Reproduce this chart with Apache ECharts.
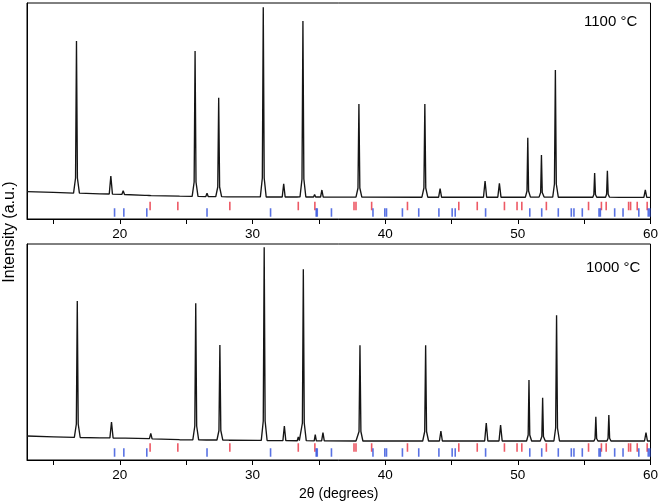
<!DOCTYPE html>
<html>
<head>
<meta charset="utf-8">
<script src="https://cdn.jsdelivr.net/npm/echarts@6/dist/echarts.min.js"></script>
<style>
html,body{margin:0;padding:0;background:#fff;}
#chart{width:661px;height:504px;}
</style>
</head>
<body>
<div id="chart"></div>
<script>
// 2θ tick values
const xTickValues = [15, 20, 25, 30, 35, 40, 45, 50, 55, 60];
const xLabelValues = [20, 30, 40, 50, 60];
const panelLabels = ['1100 °C', '1000 °C'];
const xAxisTitle = '2θ (degrees)';
const yAxisTitle = 'Intensity (a.u.)';

// Pattern at 1100 °C: [2θ, intensity (a.u.)]
const pattern1100 = [
  [13.0, 27.3], [15.0, 26.6],
  [16.51, 25.9], [16.66, 41], [16.73, 178], [16.80, 41], [16.95, 25.8],
  [18.5, 25.2],
  [19.2, 25.0], [19.32, 43], [19.44, 24.9],
  [20.15, 24.6], [20.25, 28.3], [20.35, 24.5],
  [21.88, 23.6], [21.96, 24.7], [22.04, 23.6],
  [22.2, 23.5], [22.28, 24.6], [22.36, 23.4],
  [24.5, 22.8],
  [25.45, 22.7], [25.6, 37], [25.67, 168], [25.74, 37], [25.89, 22.6],
  [26.48, 22.4], [26.57, 25.7], [26.66, 22.4],
  [27.23, 22.4], [27.38, 32], [27.45, 121.3], [27.52, 32], [27.67, 22.3],
  [28.1, 22.2], [28.2, 22.8], [28.3, 22.2],
  [30.3, 22.1],
  [30.59, 22.1], [30.74, 41], [30.81, 211.7], [30.88, 41], [31.03, 22.0],
  [32.24, 22.0], [32.35, 35.3], [32.46, 22.0],
  [33.36, 22.0], [33.43, 23.5], [33.5, 22.0],
  [33.58, 22.1], [33.73, 40], [33.80, 198], [33.87, 40], [34.02, 22.0],
  [34.6, 22.0], [34.68, 24.5], [34.76, 22.0],
  [35.13, 22.0], [35.23, 29], [35.33, 21.9],
  [37.6, 21.9],
  [37.8, 21.9], [37.95, 31], [38.02, 115], [38.09, 31], [38.24, 21.9],
  [42.5, 21.8],
  [42.77, 21.8], [42.92, 31], [42.99, 115], [43.06, 31], [43.21, 21.8],
  [44.03, 21.8], [44.14, 30.3], [44.25, 21.8],
  [47.41, 21.8], [47.53, 38], [47.65, 21.8],
  [48.49, 21.8], [48.61, 35.7], [48.73, 21.8],
  [50.57, 21.8], [50.69, 28], [50.75, 81.3], [50.81, 28], [50.95, 21.9],
  [51.6, 21.9], [51.72, 26.5], [51.78, 64], [51.84, 26.5], [51.98, 21.9],
  [52.63, 21.9], [52.76, 35], [52.83, 149], [52.9, 35], [53.05, 21.8],
  [55.65, 21.8], [55.73, 24.5], [55.79, 46], [55.85, 24.5], [55.95, 21.8],
  [56.61, 21.8], [56.69, 24.8], [56.75, 48.3], [56.81, 24.8], [56.91, 21.8],
  [57.65, 21.7], [57.73, 22.8], [57.81, 21.7],
  [59.5, 21.7], [59.61, 29], [59.72, 21.7],
  [60.0, 21.7]
];

// Pattern at 1000 °C: [2θ, intensity (a.u.)]
const pattern1000 = [
  [13.0, 24.0], [15.0, 23.2],
  [16.57, 22.6], [16.72, 36], [16.79, 159], [16.86, 36], [17.01, 22.5],
  [18.5, 22.2],
  [19.25, 22.1], [19.37, 38], [19.49, 22.0],
  [20.2, 21.9], [20.3, 23.2], [20.4, 21.9],
  [22.23, 21.3], [22.33, 26.7], [22.43, 21.2],
  [24.5, 20.3],
  [25.5, 20.2], [25.65, 34], [25.72, 156.7], [25.79, 34], [25.94, 20.1],
  [26.52, 20.0], [26.6, 21.3], [26.68, 20.0],
  [27.32, 20.0], [27.47, 29.5], [27.54, 115], [27.61, 29.5], [27.76, 19.9],
  [28.22, 19.8], [28.3, 20.8], [28.38, 19.8],
  [30.4, 19.6],
  [30.66, 19.6], [30.81, 39], [30.88, 212.7], [30.95, 39], [31.1, 19.5],
  [32.29, 19.4], [32.4, 34], [32.51, 19.4],
  [33.37, 19.3], [33.45, 23], [33.53, 19.4],
  [33.61, 19.5], [33.76, 37], [33.83, 190.7], [33.9, 37], [34.05, 19.3],
  [34.65, 19.2], [34.73, 25.3], [34.81, 19.2],
  [35.21, 19.2], [35.31, 27.3], [35.41, 19.1],
  [37.8, 19.0],
  [37.88, 19.0], [38.03, 28.5], [38.1, 114.7], [38.17, 28.5], [38.32, 19.0],
  [42.6, 19.0],
  [42.83, 19.0], [42.98, 28.5], [43.05, 114.7], [43.12, 28.5], [43.27, 19.0],
  [44.09, 19.0], [44.2, 29], [44.31, 19.0],
  [47.5, 19.0], [47.62, 37], [47.74, 19.0],
  [48.58, 19.0], [48.7, 35], [48.82, 19.0],
  [50.66, 19.0], [50.78, 25], [50.84, 80], [50.9, 25], [51.04, 19.0],
  [51.69, 19.0], [51.81, 23.5], [51.87, 62.3], [51.93, 23.5], [52.07, 19.0],
  [52.72, 19.0], [52.85, 32], [52.92, 144.7], [52.99, 32], [53.14, 19.0],
  [55.74, 19.0], [55.82, 21.5], [55.88, 43.3], [55.94, 21.5], [56.04, 19.0],
  [56.72, 19.0], [56.8, 21.7], [56.86, 45], [56.92, 21.7], [57.02, 19.0],
  [57.72, 19.0], [57.8, 20.2], [57.88, 19.0],
  [59.55, 19.0], [59.66, 27.3], [59.77, 19.0],
  [60.0, 19.0]
];

// Reference reflection positions (2θ)
const reflectionsRed = [22.28, 24.37, 28.29, 33.45, 34.7, 37.65, 37.8, 38.98, 41.68, 45.55,
  46.94, 48.99, 49.94, 50.3, 52.15, 55.33, 56.3, 56.66, 58.35, 58.5, 59.0, 59.75];
const reflectionsBlue = [19.6, 20.3, 22.03, 26.57, 31.36, 34.8, 34.88, 35.95, 39.08, 39.97,
  40.1, 41.3, 42.53, 44.05, 45.05, 45.28, 47.57, 50.9, 51.8, 53.05, 54.03, 54.23, 54.86,
  56.12, 56.22, 57.3, 57.93, 59.12, 59.83, 59.95];

const FONT = 'Liberation Sans, Arial, Helvetica, sans-serif';
const chart = echarts.init(document.getElementById('chart'), null, {renderer: 'canvas'});

function xAxisDef(idx) {
  return {
    type: 'value', gridIndex: idx, min: 13, max: 60,
    axisLine: {show: true, onZero: false, lineStyle: {color: '#000', width: 1}},
    axisTick: {show: true, inside: false, length: 5, customValues: xTickValues,
      lineStyle: {color: '#000', width: 1}},
    axisLabel: {show: true, customValues: xLabelValues, margin: 8,
      color: '#000', fontSize: 13.5, fontFamily: FONT},
    splitLine: {show: false},
    name: idx === 1 ? xAxisTitle : '',
    nameLocation: 'middle', nameGap: 27,
    nameTextStyle: {color: '#000', fontSize: 14, fontFamily: FONT}
  };
}
function yAxisDef(idx) {
  return {
    type: 'value', gridIndex: idx, min: 0, max: 216,
    axisLine: {show: true, lineStyle: {color: '#000', width: 1}},
    axisTick: {show: false}, axisLabel: {show: false}, splitLine: {show: false}
  };
}
function markerSeries(idx, data, color, yLevel) {
  return {
    type: 'scatter', xAxisIndex: idx, yAxisIndex: idx,
    data: data.map(v => [v, yLevel]),
    symbol: 'rect', symbolSize: [1.6, 8.5],
    itemStyle: {color: color}, silent: true, z: 3
  };
}
function lineSeries(idx, data) {
  return {
    type: 'line', xAxisIndex: idx, yAxisIndex: idx, data: data,
    showSymbol: false, symbol: 'none', smooth: false,
    lineStyle: {color: '#151515', width: 1.35}, silent: true, z: 4
  };
}

chart.setOption({
  animation: false,
  backgroundColor: '#fff',
  grid: [
    {left: 27, top: 3, width: 625, height: 216, show: true, borderColor: '#000', borderWidth: 1, backgroundColor: 'transparent'},
    {left: 27, top: 244, width: 625, height: 216, show: true, borderColor: '#000', borderWidth: 1, backgroundColor: 'transparent'}
  ],
  xAxis: [xAxisDef(0), xAxisDef(1)],
  yAxis: [yAxisDef(0), yAxisDef(1)],
  series: [
    lineSeries(0, pattern1100),
    markerSeries(0, reflectionsRed, '#e8303f', 13),
    markerSeries(0, reflectionsBlue, '#2f4fdc', 6.5),
    lineSeries(1, pattern1000),
    markerSeries(1, reflectionsRed, '#e8303f', 12.5),
    markerSeries(1, reflectionsBlue, '#2f4fdc', 7.5)
  ],
  graphic: [
    {type: 'text', left: 584, top: 14, style: {text: panelLabels[0], fill: '#000', font: '15px ' + FONT}},
    {type: 'text', left: 586, top: 260, style: {text: panelLabels[1], fill: '#000', font: '15px ' + FONT}},
    {type: 'text', x: 10, y: 232, rotation: Math.PI / 2,
      style: {text: yAxisTitle, fill: '#000', font: '16px ' + FONT, align: 'center', verticalAlign: 'middle'}}
  ]
});
</script>
</body>
</html>
